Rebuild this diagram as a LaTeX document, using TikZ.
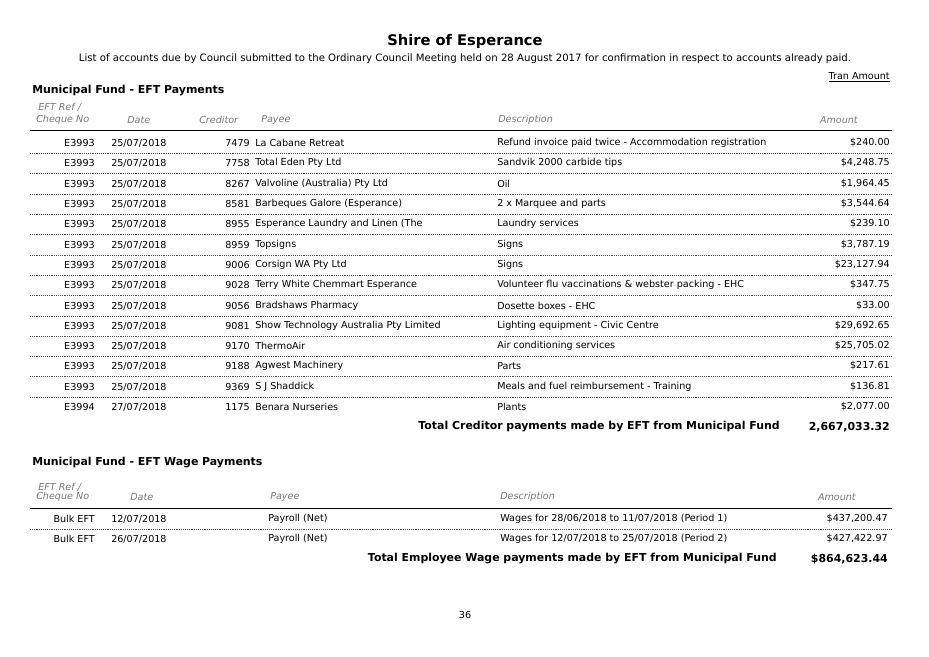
\documentclass[tikz,border=0pt]{standalone}
\usepackage{fontspec}
\setmainfont{DejaVu Sans}
\usetikzlibrary{positioning}
\definecolor{hdrgray}{RGB}{120,120,120}
\tikzset{
  cell/.style={inner sep=0pt, font=\fontsize{7.2}{8}\selectfont},
  hdr/.style={cell, text=hdrgray, font=\fontsize{7.2}{8}\selectfont\itshape},
  bold/.style={inner sep=0pt, font=\fontsize{8.2}{9}\selectfont\bfseries},
  rowline/.style={densely dotted, thin, black!70},
}
\begin{document}
\begin{tikzpicture}[x=0.75pt,y=-0.75pt]
  \useasboundingbox (0,0) rectangle (929,657);
  % titles
  \node[inner sep=0pt, font=\fontsize{11}{13}\selectfont\bfseries] (title) at (465,41) {Shire of Esperance};
  \node[cell, font=\fontsize{7.6}{9}\selectfont] (sub) at (465,59) {List of accounts due by Council submitted to the Ordinary Council Meeting held on 28 August 2017 for confirmation in respect to accounts already paid.};
  \node[cell, anchor=east] (tran) at (890,77) {\underline{Tran Amount}};
  %% No. 1
  \node[bold, anchor=west] (fund1) at (32,91) {Municipal Fund - EFT Payments};
  \node[hdr, anchor=west] (ref1) at (38,107) {EFT Ref /};
  \node[hdr, anchor=west] (chq1) at (36,120) {Cheque No};
  \node[hdr, anchor=west] (date1) at (127,120) {Date};
  \node[hdr, anchor=west] (cred1) at (199,120) {Creditor};
  \node[hdr, anchor=west] (payee1) at (261,120) {Payee};
  \node[hdr, anchor=west] (desc1) at (498,120) {Description};
  \node[hdr, anchor=east] (amt1) at (858,120) {Amount};
  \draw[thin] (30,130) -- (892,130);
  \foreach \y/\r/\d/\c/\p/\s/\a [count=\i] in {
    143/E3993/25\slash07\slash2018/7479/La Cabane Retreat/Refund invoice paid twice - Accommodation registration/\$240.00,
    163/E3993/25\slash07\slash2018/7758/Total Eden Pty Ltd/Sandvik 2000 carbide tips/\$4{,}248.75,
    184/E3993/25\slash07\slash2018/8267/Valvoline (Australia) Pty Ltd/Oil/\$1{,}964.45,
    204/E3993/25\slash07\slash2018/8581/Barbeques Galore (Esperance)/2 x Marquee and parts/\$3{,}544.64,
    224/E3993/25\slash07\slash2018/8955/Esperance Laundry and Linen (The/Laundry services/\$239.10,
    245/E3993/25\slash07\slash2018/8959/Topsigns/Signs/\$3{,}787.19,
    265/E3993/25\slash07\slash2018/9006/Corsign WA Pty Ltd/Signs/\$23{,}127.94,
    285/E3993/25\slash07\slash2018/9028/Terry White Chemmart Esperance/Volunteer flu vaccinations \& webster packing - EHC/\$347.75,
    306/E3993/25\slash07\slash2018/9056/Bradshaws Pharmacy/Dosette boxes - EHC/\$33.00,
    326/E3993/25\slash07\slash2018/9081/Show Technology Australia Pty Limited/Lighting equipment - Civic Centre/\$29{,}692.65,
    346/E3993/25\slash07\slash2018/9170/ThermoAir/Air conditioning services/\$25{,}705.02,
    366/E3993/25\slash07\slash2018/9188/Agwest Machinery/Parts/\$217.61,
    387/E3993/25\slash07\slash2018/9369/S J Shaddick/Meals and fuel reimbursement - Training/\$136.81,
    407/E3994/27\slash07\slash2018/1175/Benara Nurseries/Plants/\$2{,}077.00} {
    \node[cell, anchor=east] (r\i) at (95,\y) {\r};
    \node[cell, anchor=west] (d\i) at (111,\y) {\d};
    \node[cell, anchor=east] (c\i) at (250,\y) {\c};
    \node[cell, anchor=west] (p\i) at (255,\y) {\p};
    \node[cell, anchor=west] (s\i) at (497,\y) {\s};
    \node[cell, anchor=east] (a\i) at (890,\y) {\a};
    \ifnum\i<14 \draw[rowline] (30,\y+10) -- (892,\y+10); \fi
  }
  \node[bold, anchor=east] (tot1) at (780,427) {Total Creditor payments made by EFT from Municipal Fund};
  \node[bold, anchor=east] (tamt1) at (890,427) {2,667,033.32};
  %% No. 2
  \node[bold, anchor=west] (fund2) at (32,463) {Municipal Fund - EFT Wage Payments};
  \node[hdr, anchor=west] (ref2) at (38,487) {EFT Ref /};
  \node[hdr, anchor=west] (chq2) at (36,497) {Cheque No};
  \node[hdr, anchor=west] (date2) at (130,497) {Date};
  \node[hdr, anchor=west] (payee2) at (270,497) {Payee};
  \node[hdr, anchor=west] (desc2) at (500,497) {Description};
  \node[hdr, anchor=east] (amt2) at (856,497) {Amount};
  \draw[thin] (30,508) -- (892,508);
  \foreach \y/\d/\s/\a [count=\i] in {
    519/12\slash07\slash2018/Wages for 28\slash06\slash2018 to 11\slash07\slash2018 (Period 1)/\$437{,}200.47,
    539/26\slash07\slash2018/Wages for 12\slash07\slash2018 to 25\slash07\slash2018 (Period 2)/\$427{,}422.97} {
    \node[cell, anchor=east] (w\i) at (95,\y) {Bulk EFT};
    \node[cell, anchor=west] (wd\i) at (111,\y) {\d};
    \node[cell, anchor=west] (wp\i) at (268,\y) {Payroll (Net)};
    \node[cell, anchor=west] (ws\i) at (500,\y) {\s};
    \node[cell, anchor=east] (wa\i) at (888,\y) {\a};
    \ifnum\i<2 \draw[rowline] (30,\y+10) -- (892,\y+10); \fi
  }
  \node[bold, anchor=east] (tot2) at (777,559) {Total Employee Wage payments made by EFT from Municipal Fund};
  \node[bold, anchor=east] (tamt2) at (888,559) {\$864,623.44};
  \node[cell] (page) at (465,615) {36};
\end{tikzpicture}
\end{document}
